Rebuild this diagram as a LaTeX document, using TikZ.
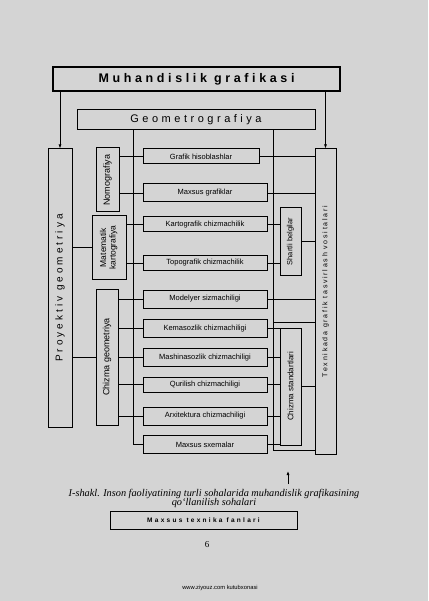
\documentclass[tikz,border=0pt]{standalone}
\usepackage{fontspec}
\setmainfont{Liberation Sans}
\newfontfamily\capfont{Liberation Serif}
\usepackage{graphicx}
\usepackage{tikz}
\usetikzlibrary{arrows.meta,positioning}
\definecolor{pagegray}{gray}{0.83}

\begin{document}
\begin{tikzpicture}[x=1pt,y=-1pt,>={Latex[length=4pt,width=3pt]},line width=0.9pt,
  box/.style={draw,line width=1pt,inner sep=0pt},
  mid/.style={box,minimum width=124pt,minimum height=18pt,font=\fontsize{7.5}{9}\selectfont},
  vbox/.style={box,font=\fontsize{9}{10}\selectfont}]
\fill[pagegray] (0,0) rectangle (428,601);
% top boxes
\node[box,line width=1.3pt,minimum width=287pt,minimum height=24pt,
  font=\bfseries\fontsize{12.5}{14}\selectfont\addfontfeatures{LetterSpace=29}] (mg) at (196.5,79) {Muhandislik grafikasi};
\node[box,minimum width=238pt,minimum height=20pt,
  font=\fontsize{11}{13}\selectfont\addfontfeatures{LetterSpace=32}] (geo) at (196,120) {Geometrografiya};
% side columns
\node[box,minimum width=24pt,minimum height=278pt,
  font=\fontsize{10}{12}\selectfont\addfontfeatures{LetterSpace=30}] (proj) at (60,288) {\rotatebox{90}{Proyektiv geometriya}};
\node[box,minimum width=21pt,minimum height=305pt,
  font=\fontsize{7}{8}\selectfont\addfontfeatures{LetterSpace=25}] (tex) at (325.5,301.5) {\rotatebox{90}{\hspace*{20pt}Texnikada grafik tasvirlash vositalari}};
\node[vbox,minimum width=23pt,minimum height=64pt] (nomo) at (107.5,180) {\rotatebox{90}{Nomografiya}};
\node[vbox,minimum width=34pt,minimum height=63pt,font=\fontsize{8.5}{9.5}\selectfont] (mat) at (109,247.5)
  {\rotatebox{90}{\begin{tabular}{@{}c@{}}Matematik\\kartografiya\end{tabular}}};
\node[vbox,minimum width=22pt,minimum height=136pt] (chg) at (107,357) {\rotatebox{90}{Chizma geometriya}};
\node[vbox,minimum width=21pt,minimum height=67pt,font=\fontsize{7.5}{9}\selectfont] (shb) at (290.5,241.5) {\rotatebox{90}{Shartli belgilar}};
\node[vbox,minimum width=21pt,minimum height=117pt,font=\fontsize{8}{9}\selectfont] (chs) at (290.5,386.5) {\rotatebox{90}{Chizma standartlari}};
% middle column
\node[mid,minimum width=116pt,minimum height=15pt] (gh) at (201,156.5) {Grafik hisoblashlar};
\node[mid] (mgr) at (205,193) {Maxsus grafiklar};
\node[mid,minimum height=15pt] (kart) at (205,224.5) {Kartografik chizmachilik};
\node[mid,minimum height=15pt] (topo) at (205,263) {Topografik chizmachilik};
\node[mid] (model) at (205,299) {Modelyer sizmachiligi};
\node[mid] (kema) at (205,328.5) {Kemasozlik chizmachiligi};
\node[mid] (mash) at (205,357.5) {Mashinasozlik chizmachiligi};
\node[mid,minimum height=15pt] (qur) at (205,384.5) {Qurilish chizmachiligi};
\node[mid] (arx) at (205,416) {Arxitektura chizmachiligi};
\node[mid] (sx) at (205,444.5) {Maxsus sxemalar};
% connectors
\coordinate (lb) at (133,0);
\coordinate (rb) at (273,0);
\coordinate (chtop) at ([yshift=5pt]chs.north);
\coordinate (texlow) at ([yshift=4pt]tex.south west);
\draw[->] (mg.south -| proj.north) -- (proj.north);
\draw[->] (mg.south -| tex.north) -- (tex.north);
\draw (geo.south -| lb) |- (sx.west);
\draw (geo.south -| rb) |- (texlow);
\draw (proj.east |- mat.west) -- (mat.west);
\draw (proj.east |- chg.west) -- (chg.west);
\foreach \m in {gh,mgr} \draw (nomo.east |- \m.west) -- (\m.west);
\foreach \m in {kart,topo} \draw (mat.east |- \m.west) -- (\m.west);
\foreach \m in {model,kema,mash,qur,arx} \draw (chg.east |- \m.west) -- (\m.west);
\foreach \m in {gh,mgr,model} \draw (\m.east) -- (\m.east -| tex.west);
\foreach \m in {kart,topo} \draw (\m.east) -- (\m.east -| shb.west);
\foreach \m in {kema,mash,qur,arx,sx} \draw (\m.east) -- (\m.east -| chs.west);
\draw (shb.east) -- (shb.east -| tex.west);
\draw (chs.east) -- (chs.east -| tex.west);
\draw (chtop -| rb) -- (chtop -| tex.west);
% caption
\coordinate (ar1) at (288,484);
\coordinate (ar2) at (288,471);
\draw[->] (ar1) -- (ar2);
\node[font=\capfont\itshape\fontsize{10.3}{12}\selectfont] (cap1) at (214,494)
  {I-shakl. Inson faoliyatining turli sohalarida muhandislik grafikasining};
\node[font=\capfont\itshape\fontsize{10.3}{12}\selectfont] (cap2) at (214,503.5) {qo‘llanilish sohalari};
\node[box,minimum width=187pt,minimum height=18pt,
  font=\bfseries\fontsize{6.5}{8}\selectfont\addfontfeatures{LetterSpace=35}] (mtf) at (203.5,520) {Maxsus texnika fanlari};
\node[font=\capfont\fontsize{9}{11}\selectfont] (pg) at (207,545) {6};
\node[font=\fontsize{5.8}{7}\selectfont] (url) at (220,588) {www.ziyouz.com kutubxonasi};
\end{tikzpicture}
\end{document}
